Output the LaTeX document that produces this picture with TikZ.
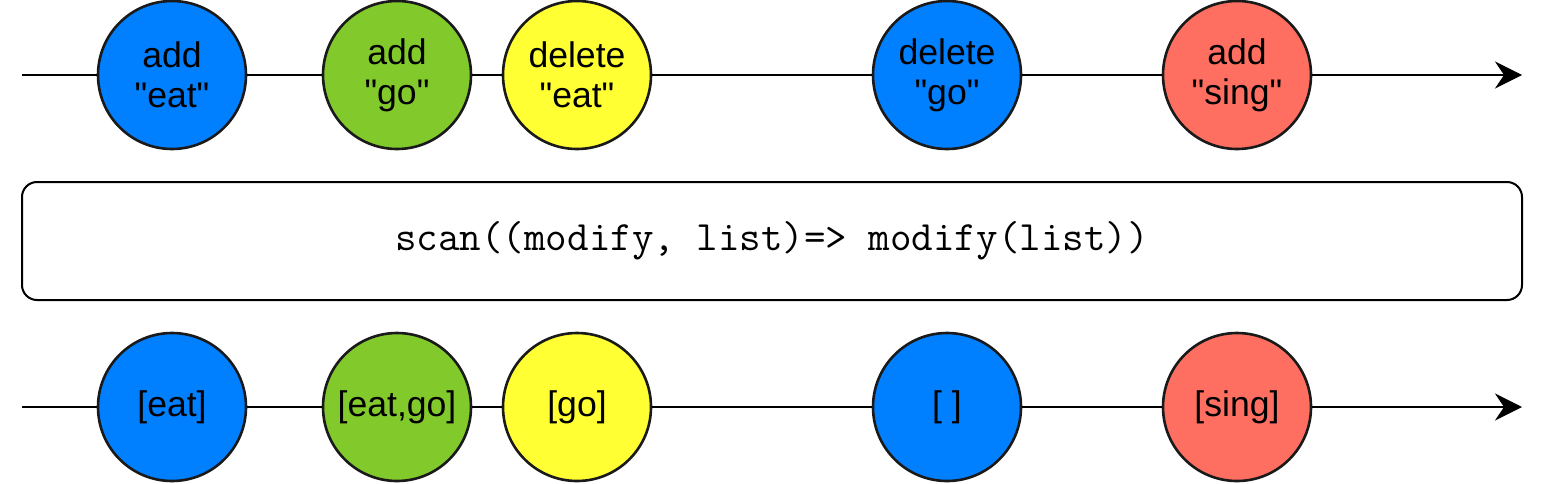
\documentclass[tikz,border=0pt]{standalone}
\usepackage{fontspec}
\setmainfont{Liberation Sans}
\usetikzlibrary{arrows.meta,positioning}
\definecolor{evblue}{HTML}{007FFF}
\definecolor{evgreen}{HTML}{82C92C}
\definecolor{evyellow}{HTML}{FFFF33}
\definecolor{evred}{HTML}{FF6F61}
\definecolor{evborder}{HTML}{1A1A1A}
\newcommand{\q}[1]{\textquotedbl#1\textquotedbl}

\begin{document}
\begin{tikzpicture}[x=0.5pt, y=-0.5pt, thick,
    marble/.style={circle, draw=evborder, line width=1.3pt, minimum size=74pt, inner sep=0pt, align=center, font=\fontsize{17.8}{20}\selectfont},
    timeline/.style={line width=1pt},
    streamarrow/.style={timeline, -{Stealth[length=13.5pt, width=13.5pt, inset=4.5pt]}}]
    \useasboundingbox (0,0) rectangle (1548,483);

    % Input stream
    \coordinate (in start) at (22,75);
    \coordinate (in end) at (1522,75);
    \node[marble, fill=evblue] (in1) at (172,75) {add\\\q{eat}};
    \node[marble, fill=evgreen] (in2) at (397,75) {add\\\q{go}};
    \node[marble, fill=evyellow] (in3) at (577,75) {delete\\\q{eat}};
    \node[marble, fill=evblue] (in4) at (947,75) {delete\\\q{go}};
    \node[marble, fill=evred] (in5) at (1237,75) {add\\\q{sing}};
    \draw[timeline] (in start) -- (in1);
    \draw[timeline] (in1) -- (in2);
    \draw[timeline] (in2) -- (in3);
    \draw[timeline] (in3) -- (in4);
    \draw[timeline] (in4) -- (in5);
    \draw[streamarrow] (in5) -- (in end);

    % Operator
    \node[draw, rounded corners=7.5pt, line width=1pt, minimum width=750pt, minimum height=59pt, font=\fontsize{20.9}{22}\ttfamily] (op) at (772,241) {scan((modify, list)=> modify(list))};

    % Output stream
    \coordinate (out start) at (22,407);
    \coordinate (out end) at (1522,407);
    \node[marble, fill=evblue] (out1) at (172,407) {[eat]};
    \node[marble, fill=evgreen] (out2) at (397,407) {[eat,go]};
    \node[marble, fill=evyellow] (out3) at (577,407) {[go]};
    \node[marble, fill=evblue] (out4) at (947,407) {[ ]};
    \node[marble, fill=evred] (out5) at (1237,407) {[sing]};
    \draw[timeline] (out start) -- (out1);
    \draw[timeline] (out1) -- (out2);
    \draw[timeline] (out2) -- (out3);
    \draw[timeline] (out3) -- (out4);
    \draw[timeline] (out4) -- (out5);
    \draw[streamarrow] (out5) -- (out end);
\end{tikzpicture}
\end{document}
